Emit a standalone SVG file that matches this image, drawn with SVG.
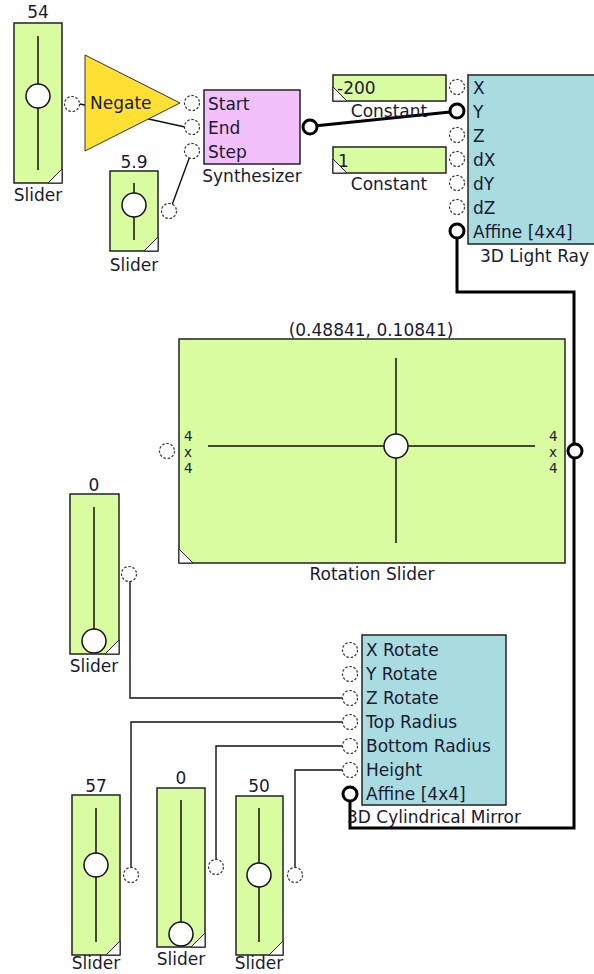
<svg xmlns="http://www.w3.org/2000/svg" width="594" height="974" viewBox="0 0 594 974">
<style>
text{font-family:"DejaVu Sans",Verdana,sans-serif;font-size:17px;fill:#1a1a30}
.mid{text-anchor:middle}
.sm{font-size:13.5px}
.sl{fill:#dafca0;stroke:#222;stroke-width:1.5}
.tr{fill:none;stroke:#111;stroke-width:1.5}
.kn{fill:#fff;stroke:#111;stroke-width:1.5}
.cn{fill:#fff;stroke:#222;stroke-width:1}
.pt{fill:#fff;stroke:#333;stroke-width:1.2;stroke-dasharray:2.5 1.8}
.pk{fill:#fff;stroke:#000;stroke-width:3}
.w{fill:none;stroke:#111;stroke-width:1.4}
.k{fill:none;stroke:#000;stroke-width:3}
</style>
<g id="connectors">
<line class="w" x1="80" y1="104" x2="185" y2="127"/>
<line class="w" x1="172" y1="205" x2="190" y2="156"/>
<line class="k" x1="314" y1="126" x2="450" y2="112"/>
<polyline class="k" points="457,238 457,292 574,292 574,828 350,828 350,801"/>
<polyline class="w" points="130,581 130,698 342,698"/>
<polyline class="w" points="131,868 131,722 342,722"/>
<polyline class="w" points="216,860 216,746 342,746"/>
<polyline class="w" points="295,868 295,770 342,770"/>
</g>
<g id="slider1">
<text class="mid" x="38" y="18">54</text>
<rect class="sl" x="14" y="23" width="48" height="160"/>
<line class="tr" x1="38" y1="36" x2="38" y2="170"/>
<circle class="kn" cx="38" cy="96" r="12"/>
<polygon class="cn" points="48,183 62,169 62,183"/>
<text class="mid" x="38" y="201">Slider</text>
<circle class="pt" cx="72" cy="104" r="7.5"/>
</g>
<g id="negate">
<polygon points="85,55 85,151 180,103" fill="#ffe033" stroke="#333" stroke-width="1"/>
<text x="90" y="109">Negate</text>
</g>
<g id="slider2">
<text class="mid" x="134" y="168">5.9</text>
<rect class="sl" x="110" y="171" width="48" height="80"/>
<line class="tr" x1="134" y1="183" x2="134" y2="240"/>
<circle class="kn" cx="134" cy="205" r="12"/>
<polygon class="cn" points="144,251 158,237 158,251"/>
<text class="mid" x="134" y="271">Slider</text>
<circle class="pt" cx="169" cy="211" r="7.5"/>
</g>
<g id="synthesizer">
<rect x="204" y="90" width="96" height="74" fill="#f2c0fa" stroke="#222" stroke-width="1.5"/>
<text x="208" y="110">Start</text>
<text x="208" y="134">End</text>
<text x="208" y="158">Step</text>
<circle class="pt" cx="192" cy="103" r="7.5"/>
<circle class="pt" cx="192" cy="127" r="7.5"/>
<circle class="pt" cx="192" cy="151" r="7.5"/>
<circle class="pk" cx="310" cy="127" r="7"/>
<text class="mid" x="252" y="182">Synthesizer</text>
</g>
<g id="constant1">
<rect class="sl" x="333" y="75" width="113" height="26"/>
<polygon class="cn" points="333,87 333,101 347,101"/>
<text x="337" y="94">-200</text>
<text class="mid" x="389" y="117">Constant</text>
</g>
<g id="constant2">
<rect class="sl" x="333" y="147" width="113" height="26"/>
<polygon class="cn" points="333,159 333,173 347,173"/>
<text x="338" y="167">1</text>
<text class="mid" x="389" y="190">Constant</text>
</g>
<g id="lightray">
<rect x="468" y="75" width="140" height="169" fill="#a8dce0" stroke="#222" stroke-width="1.5"/>
<text x="473" y="94">X</text>
<text x="473" y="118">Y</text>
<text x="473" y="142">Z</text>
<text x="473" y="166">dX</text>
<text x="473" y="190">dY</text>
<text x="473" y="214">dZ</text>
<text x="473" y="238">Affine [4x4]</text>
<circle class="pt" cx="457" cy="87" r="7.5"/>
<circle class="pk" cx="457" cy="111" r="7"/>
<circle class="pt" cx="457" cy="135" r="7.5"/>
<circle class="pt" cx="457" cy="159" r="7.5"/>
<circle class="pt" cx="457" cy="183" r="7.5"/>
<circle class="pt" cx="457" cy="207" r="7.5"/>
<circle class="pk" cx="457" cy="231" r="7"/>
<text x="480" y="262">3D Light Ray</text>
</g>
<g id="rotationslider">
<text class="mid" x="371" y="336">(0.48841, 0.10841)</text>
<rect class="sl" x="179" y="339" width="386" height="224"/>
<line class="tr" x1="208" y1="446" x2="535" y2="446"/>
<line class="tr" x1="396" y1="358" x2="396" y2="543"/>
<circle class="kn" cx="396" cy="446" r="12"/>
<polygon class="cn" points="179,549 179,563 193,563"/>
<text class="sm"><tspan x="184" y="441">4</tspan><tspan x="184" y="457">x</tspan><tspan x="184" y="473">4</tspan></text>
<text class="sm"><tspan x="549" y="441">4</tspan><tspan x="549" y="457">x</tspan><tspan x="549" y="473">4</tspan></text>
<circle class="pt" cx="167" cy="451" r="7.5"/>
<circle class="pk" cx="575" cy="451" r="7"/>
<text class="mid" x="372" y="580">Rotation Slider</text>
</g>
<g id="slider3">
<text class="mid" x="94" y="491">0</text>
<rect class="sl" x="70" y="494" width="49" height="160"/>
<line class="tr" x1="94" y1="507" x2="94" y2="630"/>
<circle class="kn" cx="94" cy="641" r="12"/>
<polygon class="cn" points="105,654 119,640 119,654"/>
<text class="mid" x="94" y="672">Slider</text>
<circle class="pt" cx="129" cy="574" r="7.5"/>
</g>
<g id="mirror">
<rect x="362" y="635" width="144" height="170" fill="#a8dce0" stroke="#222" stroke-width="1.5"/>
<text x="366" y="656">X Rotate</text>
<text x="366" y="680">Y Rotate</text>
<text x="366" y="704">Z Rotate</text>
<text x="366" y="728">Top Radius</text>
<text x="366" y="752">Bottom Radius</text>
<text x="366" y="776">Height</text>
<text x="366" y="800">Affine [4x4]</text>
<circle class="pt" cx="350" cy="650" r="7.5"/>
<circle class="pt" cx="350" cy="674" r="7.5"/>
<circle class="pt" cx="350" cy="698" r="7.5"/>
<circle class="pt" cx="350" cy="722" r="7.5"/>
<circle class="pt" cx="350" cy="746" r="7.5"/>
<circle class="pt" cx="350" cy="770" r="7.5"/>
<circle class="pk" cx="350" cy="794" r="7"/>
<text class="mid" x="434" y="823">3D Cylindrical Mirror</text>
</g>
<g id="slider4">
<text class="mid" x="96" y="792">57</text>
<rect class="sl" x="72" y="795" width="48" height="160"/>
<line class="tr" x1="96" y1="808" x2="96" y2="942"/>
<circle class="kn" cx="96" cy="865" r="12"/>
<polygon class="cn" points="106,955 120,941 120,955"/>
<text class="mid" x="96" y="969">Slider</text>
<circle class="pt" cx="131" cy="875" r="7.5"/>
</g>
<g id="slider5">
<text class="mid" x="181" y="784">0</text>
<rect class="sl" x="157" y="788" width="48" height="159"/>
<line class="tr" x1="181" y1="800" x2="181" y2="922"/>
<circle class="kn" cx="181" cy="934" r="12"/>
<polygon class="cn" points="191,947 205,933 205,947"/>
<text class="mid" x="181" y="965">Slider</text>
<circle class="pt" cx="216" cy="867" r="7.5"/>
</g>
<g id="slider6">
<text class="mid" x="259" y="792">50</text>
<rect class="sl" x="236" y="796" width="47" height="159"/>
<line class="tr" x1="259" y1="808" x2="259" y2="942"/>
<circle class="kn" cx="259" cy="875" r="12"/>
<polygon class="cn" points="269,955 283,941 283,955"/>
<text class="mid" x="259" y="969">Slider</text>
<circle class="pt" cx="295" cy="875" r="7.5"/>
</g>
</svg>
